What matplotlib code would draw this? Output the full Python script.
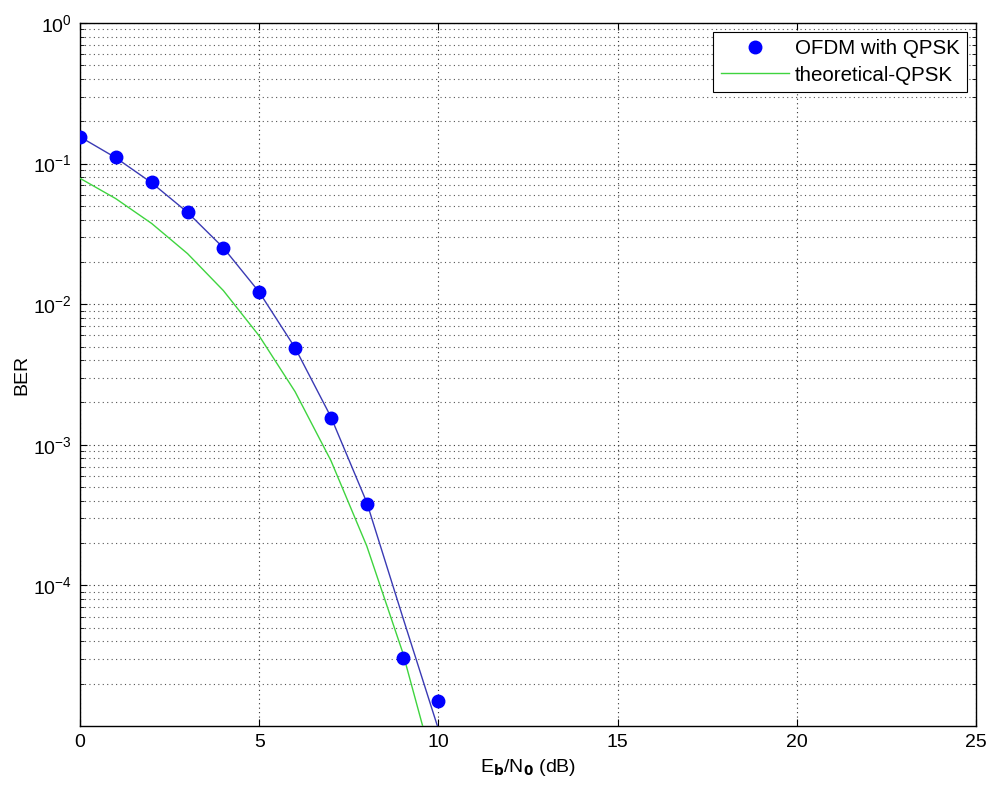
import matplotlib
matplotlib.use("Agg")
import matplotlib.pyplot as plt
import numpy as np
from matplotlib.ticker import FixedLocator, FixedFormatter, NullFormatter

plt.rcParams['font.family'] = ['Liberation Sans', 'DejaVu Sans']
plt.rcParams['mathtext.default'] = 'regular'

# Data
ebn0_points = [0, 1, 2, 3, 4, 5, 6, 7, 8, 9, 10]
ber_ofdm = [0.155, 0.112, 0.0743, 0.0451, 0.0250, 0.01227, 0.00486, 0.00156, 3.79e-4, 3.06e-5, 1.51e-5]

ebn0_fit = [0, 1, 2, 3, 4, 5, 6, 7, 8, 9, 10]
ber_fit = [0.155, 0.11, 0.073, 0.045, 0.0252, 0.0122, 0.0049, 0.00158, 3.9e-4, 6.0e-5, 9.5e-6]

ebn0_theory = [0, 1, 2, 3, 4, 5, 6, 7, 8, 9, 10]
ber_theory = [0.0786, 0.0563, 0.0375, 0.0229, 0.0125, 0.00595, 0.00239, 7.73e-4, 1.91e-4, 3.36e-5, 3.87e-6]

x_ticks = [0, 5, 10, 15, 20, 25]
y_major = [1e-4, 1e-3, 1e-2, 1e-1, 1e0]
y_major_labels = [r'$10^{-4}$', r'$10^{-3}$', r'$10^{-2}$', r'$10^{-1}$', r'$10^{0}$']

fig = plt.figure(figsize=(9.87, 7.88), dpi=100)
ax = fig.add_axes([80/987, 1-726/788, (976-80)/987, (726-23)/788])

ax.semilogy(ebn0_fit, ber_fit, color='#3a3ab4', linewidth=1.0, zorder=3)
ax.semilogy(ebn0_points, ber_ofdm, linestyle='none', marker='o', markersize=9,
            color='#0000ff', markeredgecolor='#0000ff', label='OFDM with QPSK', zorder=4)
ax.semilogy(ebn0_theory, ber_theory, color='#3fd43f', linewidth=1.0,
            label='theoretical-QPSK', zorder=3)

ax.set_xlim(0, 25)
ax.set_ylim(1e-5, 1)
ax.set_xticks(x_ticks)
ax.yaxis.set_major_locator(FixedLocator(y_major))
ax.yaxis.set_major_formatter(FixedFormatter(y_major_labels))
minor = [m * 10.0**e for e in range(-5, 0) for m in range(2, 10)]
ax.yaxis.set_minor_locator(FixedLocator(minor))
ax.yaxis.set_minor_formatter(NullFormatter())

ax.grid(True, which='major', linestyle=(0, (1, 3)), color='#333333', linewidth=0.8)
ax.grid(True, which='minor', axis='y', linestyle=(0, (1, 3)), color='#555555', linewidth=0.8)

ax.tick_params(which='both', direction='in', top=True, right=True, labelsize=14)
ax.tick_params(which='major', length=5, pad=6)
ax.tick_params(which='minor', length=3)
for s in ax.spines.values():
    s.set_linewidth(1.0)

ax.set_xlabel(r'E$_{\mathbf{b}}$/N$_{\mathbf{0}}$ (dB)', fontsize=14, labelpad=4)
ax.set_ylabel('BER', fontsize=14, labelpad=2)

leg = ax.legend(loc='upper right', fontsize=14.8, frameon=True, fancybox=False,
                edgecolor='black', framealpha=1, borderpad=0.35, handlelength=3.3,
                labelspacing=0.35, borderaxespad=0.45, handletextpad=0.3, markerfirst=True)
leg.get_frame().set_linewidth(0.8)

fig.savefig('out.png', dpi=100)
